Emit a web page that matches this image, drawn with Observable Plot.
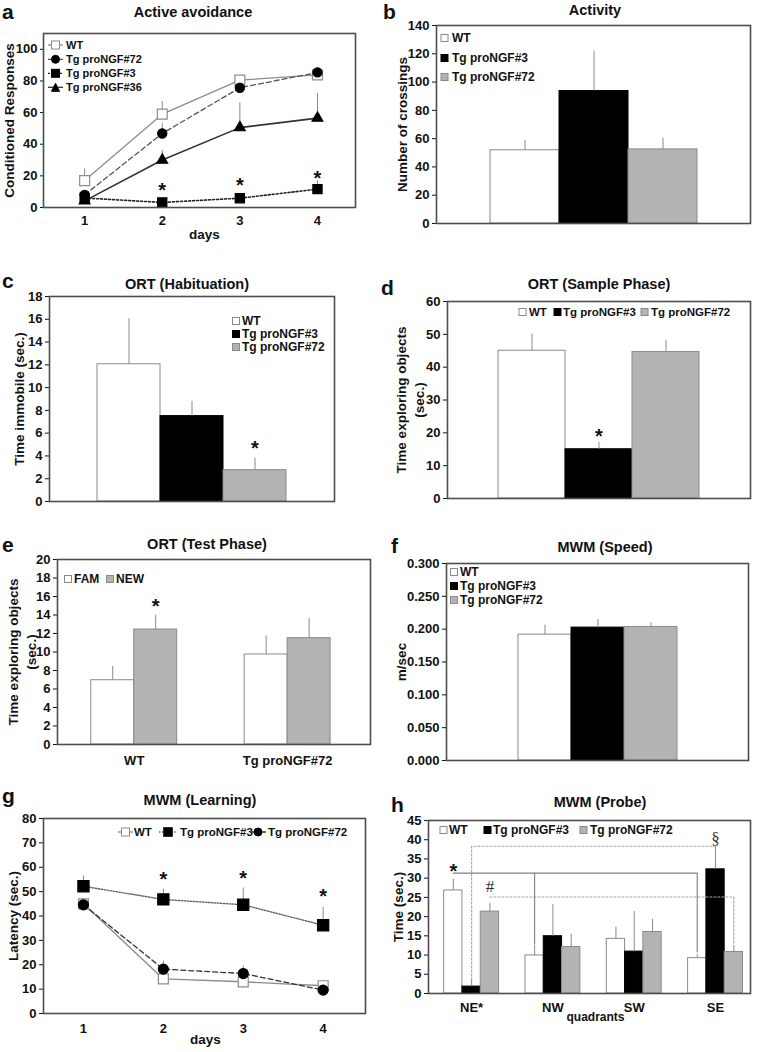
<!DOCTYPE html>
<html><head><meta charset="utf-8">
<script src="https://cdn.jsdelivr.net/npm/d3@7"></script>
<script src="https://cdn.jsdelivr.net/npm/@observablehq/plot@0.6"></script>
<style>
html,body{margin:0;padding:0;background:#fff}
#fig{position:relative;width:757px;height:1052px;overflow:hidden;background:#fff}
</style></head>
<body><div id="fig"></div>
<script>
// ---------------- DATA ----------------
// a: Active avoidance
const aDays = [1, 2, 3, 4];
const aYTicks = [0, 20, 40, 60, 80, 100];
const aSeries = ["WT", "Tg proNGF#72", "Tg proNGF#3", "Tg proNGF#36"];
const aWT = [17, 59, 80.5, 83.8];
const aWTsem = [7.5, 8, 1.5, 1];
const a72 = [8, 46.8, 75.7, 85.4];
const a72sem = [2, 6.5, 1, 1];
const a3 = [6, 3.2, 5.9, 11.6];
const a3sem = [1, 0.8, 1, 5.5];
const a36 = [4.2, 30, 50.5, 56.5];
const a36sem = [1, 6.2, 15.5, 15.5];
const aStarDays = [2, 3, 4];
const aStarY = [14, 16.7, 21.7];

// b: Activity
const bSeries = ["WT", "Tg proNGF#3", "Tg proNGF#72"];
const bYTicks = [0, 20, 40, 60, 80, 100, 120, 140];
const bMean = [51.8, 93.7, 52.4];
const bSem = [6.8, 28.2, 7.8];

// c: ORT (Habituation)
const cSeries = ["WT", "Tg proNGF#3", "Tg proNGF#72"];
const cYTicks = [0, 2, 4, 6, 8, 10, 12, 14, 16, 18];
const cMean = [12.05, 7.5, 2.75];
const cSem = [4.0, 1.3, 1.05];
const cStarSeries = ["Tg proNGF#72"];
const cStarY = [5.1];

// d: ORT (Sample Phase)
const dSeries = ["WT", "Tg proNGF#3", "Tg proNGF#72"];
const dYTicks = [0, 10, 20, 30, 40, 50, 60];
const dMean = [45, 15, 44.6];
const dSem = [5.1, 2.1, 3.6];
const dStarSeries = ["Tg proNGF#3"];
const dStarY = [20.4];

// e: ORT (Test Phase)
const eGroups = ["WT", "Tg proNGF#72"];
const eSeries = ["FAM", "NEW"];
const eYTicks = [0, 2, 4, 6, 8, 10, 12, 14, 16, 18, 20];
const eFAM = [6.95, 9.73];
const eFAMsem = [1.5, 2.0];
const eNEW = [12.43, 11.5];
const eNEWsem = [1.55, 2.1];
const eStarGroup = ["WT"];
const eStarSeries = ["NEW"];
const eStarY = [15.4];

// f: MWM (Speed)
const fSeries = ["WT", "Tg proNGF#3", "Tg proNGF#72"];
const fYTicks = [0, 0.05, 0.1, 0.15, 0.2, 0.25, 0.3];
const fMean = [0.1917, 0.2024, 0.2034];
const fSem = [0.0143, 0.0122, 0.0061];

// g: MWM (Learning)
const gDays = [1, 2, 3, 4];
const gYTicks = [0, 10, 20, 30, 40, 50, 60, 70, 80];
const gSeries = ["WT", "Tg proNGF#3", "Tg proNGF#72"];
const gWT = [45, 14.2, 13, 11.4];
const gWTsem = [1.5, 0.8, 0.8, 0.6];
const g3 = [52.2, 46.8, 44.6, 36.2];
const g3sem = [4.3, 4.2, 6.9, 7.3];
const g72 = [44.6, 18.2, 16.4, 9.6];
const g72sem = [1.5, 3.3, 3.1, 0.6];
const gStarDays = [2, 3, 4];
const gStarY = [57, 57.6, 50];

// h: MWM (Probe)
const hGroups = ["NE*", "NW", "SW", "SE"];
const hSeries = ["WT", "Tg proNGF#3", "Tg proNGF#72"];
const hYTicks = [0, 5, 10, 15, 20, 25, 30, 35, 40, 45];
const hWT = [26.8, 9.9, 14.2, 9.2];
const hWTsem = [2.9, 2.6, 3.1, 0.9];
const h3 = [1.8, 14.9, 10.9, 32.3];
const h3sem = [2.0, 8.2, 10.4, 5.8];
const h72 = [21.3, 12.1, 16.0, 10.8];
const h72sem = [2.2, 3.3, 3.3, 1.7];
// significance marks: symbol, group, series, y
const hMarkText = ["*", "#", "§"];
const hMarkGroup = ["NE*", "NE*", "SE"];
const hMarkSeries = ["WT", "Tg proNGF#72", "Tg proNGF#3"];
const hMarkY = [32.9, 27.7, 40.2];
// comparison brackets (y levels)
const hSolidLevel = 31.3, hSolidEndNW = 12.9, hSolidEndSE = 10.8;
const hDotUpperLevel = 38.3, hDotUpperEndNE = 3.5;
const hDotLowerLevel = 25.1, hDotLowerEndSE = 12.9;

// ---------------- STYLE ----------------
const FONT = '"Liberation Sans", Arial, Helvetica, sans-serif';
const SERIF = '"Liberation Serif", "DejaVu Serif", serif';
const FRAME = "#4d4d4d";
const ERR = "#8a8a8a";
const WHITE = "#ffffff", BLACK = "#000000", GREY = "#b3b3b3", OUTLINE = "#8a8a8a";
const FILL3 = [WHITE, BLACK, GREY];
const STROKE3 = [OUTLINE, BLACK, OUTLINE];
const fig = document.getElementById("fig");

function makePlot(box, opts) {
  const width = box.fx1 - box.left + box.mr;
  const height = box.fy1 - box.top + box.mb;
  const p = Plot.plot({
    width, height,
    marginLeft: box.fx0 - box.left, marginRight: box.mr,
    marginTop: box.fy0 - box.top, marginBottom: box.mb,
    style: `font-family:${FONT};font-size:13px;font-weight:bold;color:#111;background:transparent;overflow:visible;`,
    ...opts
  });
  p.style.position = "absolute";
  p.style.left = box.left + "px";
  p.style.top = box.top + "px";
  p.style.maxWidth = "none";
  fig.appendChild(p);
  return p;
}

function yTitle(label, dx) {
  return Plot.text([label], {text: d => d, frameAnchor: "left", textAnchor: "middle", lineAnchor: "middle", dx, rotate: -90, fontSize: 13.5, lineHeight: 1.35});
}

function barPanel(box, {series, mean, sem, ticks, tickFormat, padOuter, ylabel, ydx, starSeries, starY}) {
  const data = series.map((s, i) => ({s, v: mean[i], e: sem[i]}));
  const stars = (starSeries || []).map((s, i) => ({s, v: starY[i], t: "*"}));
  makePlot(box, {
    x: {type: "band", domain: series, paddingInner: 0, paddingOuter: padOuter, axis: null},
    y: {domain: [ticks[0], ticks[ticks.length - 1]], ticks, tickFormat, tickSize: 4, tickPadding: 3, label: null},
    marks: [
      ...data.map((d, i) => Plot.barY([d], {x: "s", y: "v", fill: FILL3[i], stroke: STROKE3[i], strokeWidth: 1})),
      Plot.ruleX(data, {x: "s", y1: "v", y2: d => d.v + d.e, stroke: ERR, strokeWidth: 1}),
      Plot.text(stars, {x: "s", y: "v", text: "t", fontSize: 20, dy: 5}),
      Plot.frame({stroke: FRAME, strokeWidth: 1.6}),
      yTitle(ylabel, ydx)
    ]
  });
}

// ---------------- PANEL a ----------------
{
  const vals = [aWT, a72, a3, a36], sems = [aWTsem, a72sem, a3sem, a36sem];
  const sty = [
    {stroke: "#8c8c8c", dash: null, sw: 1.3, symbol: "square", fill: WHITE, ms: "#8c8c8c", r: 5.6},
    {stroke: "#555555", dash: "5,3", sw: 1.3, symbol: "circle", fill: BLACK, ms: BLACK, r: 4.6},
    {stroke: "#222222", dash: "2,2", sw: 1.6, symbol: "square", fill: BLACK, ms: BLACK, r: 5.2},
    {stroke: "#333333", dash: null, sw: 1.6, symbol: "triangle", fill: BLACK, ms: BLACK, r: 4}
  ];
  const data = [];
  aSeries.forEach((s, si) => aDays.forEach((d, di) => data.push({s, day: d, v: vals[si][di], e: sems[si][di]})));
  const stars = aStarDays.map((d, i) => ({day: d, v: aStarY[i], t: "*"}));
  makePlot({left: 0, top: 20, fx0: 43, fx1: 355, fy0: 33, fy1: 207, mr: 6, mb: 45}, {
    x: {domain: [0.47, 4.49], ticks: aDays, tickFormat: d => String(d), tickSize: 0, tickPadding: 8, label: null},
    y: {domain: [0, 110], ticks: aYTicks, tickSize: 3, tickPadding: 3, label: null},
    marks: [
      Plot.ruleX(data, {x: "day", y1: "v", y2: d => d.v + d.e, stroke: ERR, strokeWidth: 1}),
      ...aSeries.map((s, i) => Plot.line(data.filter(d => d.s === s), {x: "day", y: "v", stroke: sty[i].stroke, strokeWidth: sty[i].sw, strokeDasharray: sty[i].dash})),
      ...aSeries.map((s, i) => Plot.dot(data.filter(d => d.s === s), {x: "day", y: "v", symbol: sty[i].symbol, r: sty[i].r, fill: sty[i].fill, stroke: sty[i].ms, strokeWidth: 1.2})),
      Plot.text(stars, {x: "day", y: "v", text: "t", fontSize: 20, dy: 5}),
      Plot.frame({stroke: FRAME, strokeWidth: 1.6}),
      yTitle("Conditioned Responses", -35),
      Plot.text(["days"], {text: d => d, frameAnchor: "bottom", textAnchor: "middle", dx: 5, dy: 31, fontSize: 13.5})
    ]
  });
}

// ---------------- PANEL b, c, d, f ----------------
barPanel({left: 378, top: 18, fx0: 436, fx1: 750, fy0: 25, fy1: 223, mr: 4, mb: 20},
  {series: bSeries, mean: bMean, sem: bSem, ticks: bYTicks, padOuter: 0.77, ylabel: "Number of crossings", ydx: -35});
barPanel({left: 0, top: 290, fx0: 49, fx1: 334, fy0: 296, fy1: 501, mr: 6, mb: 12},
  {series: cSeries, mean: cMean, sem: cSem, ticks: cYTicks, padOuter: 0.75, ylabel: "Time immobile (sec.)", ydx: -31, starSeries: cStarSeries, starY: cStarY});
barPanel({left: 378, top: 294, fx0: 447, fx1: 750, fy0: 301, fy1: 498, mr: 4, mb: 12},
  {series: dSeries, mean: dMean, sem: dSem, ticks: dYTicks, padOuter: 0.75, ylabel: "Time exploring objects\n(sec.)", ydx: -38, starSeries: dStarSeries, starY: dStarY});
barPanel({left: 378, top: 556, fx0: 446, fx1: 748, fy0: 563, fy1: 760, mr: 6, mb: 12},
  {series: fSeries, mean: fMean, sem: fSem, ticks: fYTicks, tickFormat: d3.format(".3f"), padOuter: 1.33, ylabel: "m/sec", ydx: -46});

// ---------------- PANEL e ----------------
{
  const W = 0.28;
  const vals = [eFAM, eNEW], sems = [eFAMsem, eNEWsem];
  const fills = [WHITE, GREY], strokes = [OUTLINE, OUTLINE];
  const data = [];
  eSeries.forEach((s, si) => eGroups.forEach((g, gi) => {
    const x1 = gi + (si - eSeries.length / 2) * W;
    data.push({s, si, g, x1, x2: x1 + W, xc: x1 + W / 2, v: vals[si][gi], e: sems[si][gi]});
  }));
  const stars = eStarGroup.map((g, i) => ({xc: data.find(d => d.g === g && d.s === eStarSeries[i]).xc, v: eStarY[i], t: "*"}));
  makePlot({left: 0, top: 552, fx0: 57, fx1: 370, fy0: 559, fy1: 744, mr: 6, mb: 26}, {
    x: {domain: [-0.5, 1.54], ticks: eGroups.map((g, i) => i), tickFormat: i => eGroups[i], tickSize: 0, tickPadding: 11, label: null},
    y: {domain: [0, 20], ticks: eYTicks, tickSize: 4, tickPadding: 3, label: null},
    marks: [
      ...eSeries.map((s, si) => Plot.rect(data.filter(d => d.si === si), {x1: "x1", x2: "x2", y1: 0, y2: "v", fill: fills[si], stroke: strokes[si], strokeWidth: 1})),
      Plot.ruleX(data, {x: "xc", y1: "v", y2: d => d.v + d.e, stroke: ERR, strokeWidth: 1}),
      Plot.text(stars, {x: "xc", y: "v", text: "t", fontSize: 20, dy: 5}),
      Plot.frame({stroke: FRAME, strokeWidth: 1.6}),
      yTitle("Time exploring objects\n(sec.)", -36)
    ]
  });
}

// ---------------- PANEL g ----------------
{
  const vals = [gWT, g3, g72], sems = [gWTsem, g3sem, g72sem];
  const sty = [
    {stroke: "#8c8c8c", dash: null, sw: 1.4, symbol: "square", fill: WHITE, ms: "#8c8c8c", r: 5.6},
    {stroke: "#666666", dash: "1.5,1.5", sw: 1.4, symbol: "square", fill: BLACK, ms: BLACK, r: 6.3},
    {stroke: "#333333", dash: "5,3", sw: 1.3, symbol: "circle", fill: BLACK, ms: BLACK, r: 5}
  ];
  const data = [];
  gSeries.forEach((s, si) => gDays.forEach((d, di) => data.push({s, day: d, v: vals[si][di], e: sems[si][di]})));
  const stars = gStarDays.map((d, i) => ({day: d, v: gStarY[i], t: "*"}));
  makePlot({left: 0, top: 810, fx0: 43, fx1: 365, fy0: 818, fy1: 1013, mr: 6, mb: 39}, {
    x: {domain: [0.5, 4.53], ticks: gDays, tickFormat: d => String(d), tickSize: 0, tickPadding: 10, label: null},
    y: {domain: [0, 80], ticks: gYTicks, tickSize: 4, tickPadding: 3, label: null},
    marks: [
      Plot.ruleX(data, {x: "day", y1: "v", y2: d => d.v + d.e, stroke: ERR, strokeWidth: 1}),
      ...gSeries.map((s, i) => Plot.line(data.filter(d => d.s === s), {x: "day", y: "v", stroke: sty[i].stroke, strokeWidth: sty[i].sw, strokeDasharray: sty[i].dash})),
      ...gSeries.map((s, i) => Plot.dot(data.filter(d => d.s === s), {x: "day", y: "v", symbol: sty[i].symbol, r: sty[i].r, fill: sty[i].fill, stroke: sty[i].ms, strokeWidth: 1.2})),
      Plot.text(stars, {x: "day", y: "v", text: "t", fontSize: 20, dy: 5}),
      Plot.frame({stroke: FRAME, strokeWidth: 1.6}),
      yTitle("Latency (sec.)", -31),
      Plot.text(["days"], {text: d => d, frameAnchor: "bottom", textAnchor: "middle", dx: 1, dy: 30, fontSize: 13.5})
    ]
  });
}

// ---------------- PANEL h ----------------
{
  const W = 0.225;
  const vals = [hWT, h3, h72], sems = [hWTsem, h3sem, h72sem];
  const data = [];
  hSeries.forEach((s, si) => hGroups.forEach((g, gi) => {
    const x1 = gi + (si - hSeries.length / 2) * W;
    data.push({s, si, g, x1, x2: x1 + W, xc: x1 + W / 2, v: vals[si][gi], e: sems[si][gi]});
  }));
  const cx = (g, s) => data.find(d => d.g === g && d.s === s).xc;
  const marksTxt = hMarkText.map((t, i) => ({t, xc: cx(hMarkGroup[i], hMarkSeries[i]), v: hMarkY[i]}));
  const solidA = [
    {x: cx("NE*", "WT"), y: hSolidLevel}, {x: cx("SE", "WT"), y: hSolidLevel}, {x: cx("SE", "WT"), y: hSolidEndSE}
  ];
  const solidB = [{x: cx("NW", "WT"), y: hSolidLevel}, {x: cx("NW", "WT"), y: hSolidEndNW}];
  const dotU = [
    {x: cx("NE*", "Tg proNGF#3"), y: hDotUpperEndNE}, {x: cx("NE*", "Tg proNGF#3"), y: hDotUpperLevel}, {x: cx("SE", "Tg proNGF#3"), y: hDotUpperLevel}
  ];
  const dotL = [
    {x: cx("NE*", "Tg proNGF#72"), y: hDotLowerLevel}, {x: cx("SE", "Tg proNGF#72"), y: hDotLowerLevel}, {x: cx("SE", "Tg proNGF#72"), y: hDotLowerEndSE}
  ];
  makePlot({left: 378, top: 812, fx0: 428, fx1: 750, fy0: 820, fy1: 993, mr: 4, mb: 36}, {
    x: {domain: [-0.53, 3.43], ticks: hGroups.map((g, i) => i), tickFormat: i => hGroups[i], tickSize: 0, tickPadding: 9, label: null},
    y: {domain: [0, 45], ticks: hYTicks, tickSize: 4, tickPadding: 3, label: null},
    marks: [
      ...hSeries.map((s, si) => Plot.rect(data.filter(d => d.si === si), {x1: "x1", x2: "x2", y1: 0, y2: "v", fill: FILL3[si], stroke: STROKE3[si], strokeWidth: 1})),
      Plot.ruleX(data, {x: "xc", y1: "v", y2: d => d.v + d.e, stroke: ERR, strokeWidth: 1}),
      Plot.line(dotU, {x: "x", y: "y", stroke: "#a8a8a8", strokeWidth: 1.2, strokeDasharray: "2,2"}),
      Plot.line(dotL, {x: "x", y: "y", stroke: "#a8a8a8", strokeWidth: 1.2, strokeDasharray: "2,2"}),
      Plot.line(solidA, {x: "x", y: "y", stroke: "#808080", strokeWidth: 1.1}),
      Plot.line(solidB, {x: "x", y: "y", stroke: "#808080", strokeWidth: 1.1}),
      Plot.text(marksTxt.filter(d => d.t === "*"), {x: "xc", y: "v", text: "t", fontSize: 20, dy: 5}),
      Plot.text(marksTxt.filter(d => d.t !== "*"), {x: "xc", y: "v", text: "t", fontSize: 17, fontWeight: "normal", fontFamily: SERIF, fill: "#333"}),
      Plot.frame({stroke: FRAME, strokeWidth: 1.6}),
      yTitle("Time (sec.)", -31),
      Plot.text(["quadrants"], {text: d => d, frameAnchor: "bottom", textAnchor: "middle", dx: 6, dy: 27, fontSize: 12})
    ]
  });
}

// ---------------- OVERLAY: titles, panel letters, legends ----------------
const NS = "http://www.w3.org/2000/svg";
const ov = document.createElementNS(NS, "svg");
ov.setAttribute("width", 757); ov.setAttribute("height", 1052);
ov.style.cssText = "position:absolute;left:0;top:0;pointer-events:none;overflow:visible";
fig.appendChild(ov);
function el(tag, attrs) { const e = document.createElementNS(NS, tag); for (const k in attrs) if (attrs[k] != null) e.setAttribute(k, attrs[k]); ov.appendChild(e); return e; }
function txt(s, x, y, size, anchor = "start") {
  const e = el("text", {x, y, "font-size": size, "font-family": FONT, "font-weight": "bold", fill: "#111", "text-anchor": anchor});
  e.textContent = s; return e;
}
function sq(cx, cy, size, fill, stroke) { el("rect", {x: cx - size / 2, y: cy - size / 2, width: size, height: size, fill, stroke, "stroke-width": 1}); }
function sym(type, cx, cy, s, fill, stroke) {
  if (type === "square") sq(cx, cy, s, fill, stroke);
  else if (type === "circle") el("circle", {cx, cy, r: s / 2, fill, stroke});
  else el("polygon", {points: `${cx},${cy - s / 2} ${cx + s / 2},${cy + s / 2} ${cx - s / 2},${cy + s / 2}`, fill, stroke});
}
function seg(x1, y1, x2, y2, stroke, dash, w = 1.3) { el("line", {x1, y1, x2, y2, stroke, "stroke-dasharray": dash, "stroke-width": w}); }

// titles
txt("Active avoidance", 193, 17, 14.5, "middle");
txt("Activity", 595, 15, 14.5, "middle");
txt("ORT (Habituation)", 187, 289, 14.5, "middle");
txt("ORT (Sample Phase)", 599, 289, 14.5, "middle");
txt("ORT (Test Phase)", 207, 549, 14.5, "middle");
txt("MWM (Speed)", 605, 552, 14.5, "middle");
txt("MWM (Learning)", 200, 805, 14.5, "middle");
txt("MWM (Probe)", 600, 807, 14.5, "middle");
// panel letters
txt("a", 2, 19, 21); txt("b", 383, 19, 21);
txt("c", 2, 288, 21); txt("d", 381, 295, 21);
txt("e", 2, 552, 21); txt("f", 391, 553, 21);
txt("g", 2, 803, 21); txt("h", 391, 812, 21);

// legend a
{
  const rows = [45, 59.3, 73.3, 87.3];
  const st = [["#8c8c8c", null, "square", WHITE, "#8c8c8c", 8], ["#555", "4,2", "circle", BLACK, BLACK, 8], ["#222", "2,2", "square", BLACK, BLACK, 8], ["#333", null, "triangle", BLACK, BLACK, 8]];
  aSeries.forEach((s, i) => {
    seg(48, rows[i], 63, rows[i], st[i][0], st[i][1]);
    sym(st[i][2], 55.5, rows[i], st[i][5], st[i][3], st[i][4]);
    txt(s, 66, rows[i] + 4, 11);
  });
}
// legend b
[38, 58, 77].forEach((y, i) => { sq(444.5, y, 7, FILL3[i], STROKE3[i]); txt(bSeries[i], 452, y + 4.3, 12); });
// legend c
[321, 334, 347].forEach((y, i) => { sq(236, y, 7, FILL3[i], STROKE3[i]); txt(cSeries[i], 242, y + 4.3, 12); });
// legend d
[[522.5, 529], [557.5, 563], [644.5, 651]].forEach(([sx, tx], i) => { sq(sx, 312, 7, FILL3[i], STROKE3[i]); txt(dSeries[i], tx, 316.2, 11.5); });
// legend e
[[68, 74], [110, 116]].forEach(([sx, tx], i) => { sq(sx, 579, 7, [WHITE, GREY][i], OUTLINE); txt(eSeries[i], tx, 583.3, 12); });
// legend f
[572, 586, 600].forEach((y, i) => { sq(454, y, 7, FILL3[i], STROKE3[i]); txt(fSeries[i], 460, y + 4.3, 12); });
// legend g
{
  const st = [["#8c8c8c", null, "square", WHITE, "#8c8c8c", 8, 118, 133, 134], ["#666", "1.5,1.5", "square", BLACK, BLACK, 8.5, 159, 177, 180], ["#333", "4,2", "circle", BLACK, BLACK, 8, 250, 266, 268]];
  gSeries.forEach((s, i) => {
    const [c, dash, shp, fill, ms, sz, x1, x2, tx] = st[i];
    seg(x1, 832, x2, 832, c, dash);
    sym(shp, (x1 + x2) / 2, 832, sz, fill, ms);
    txt(s, tx, 836.3, 11.5);
  });
}
// legend h
[[443.5, 449], [487.5, 493], [583.5, 590]].forEach(([sx, tx], i) => { sq(sx, 830, 7, FILL3[i], STROKE3[i]); txt(hSeries[i], tx, 834.3, 12); });
</script></body></html>
